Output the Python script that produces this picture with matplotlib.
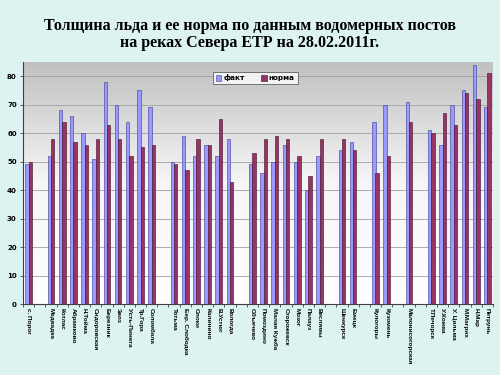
import matplotlib
matplotlib.use("Agg")
import matplotlib.pyplot as plt
import numpy as np
from matplotlib.colors import LinearSegmentedColormap

stations = ["с. Порог", "", "Медвадка", "Котлас", "Абрамково", "Н.Тойма", "Сидоровская",
            "Березник", "Звоз", "Усть-Пинега", "Тр.Гора", "Соломбала", "",
            "Тотьма", "Бер. Слободка", "Опоки", "Калинино", "В.Устюг", "Вологда", "",
            "Объячево", "Помоздино", "Малая Кужба", "Сторожевск", "Мозог", "Палауз", "Веслямы", "",
            "Шенкурск", "Емецк", "", "Кулогоры", "Кузомень", "", "Малонисогорская", "",
            "Т.Печорск", "У.Кожва", "У. Цильма", "М.Магрих", "Н.Мар", "Петрунь"]

fact = [49, None, 52, 68, 66, 60, 51, 78, 70, 64, 75, 69, None,
        50, 59, 52, 56, 52, 58, None,
        49, 46, 50, 56, 50, 40, 52, None,
        54, 57, None, 64, 70, None, 71, None,
        61, 56, 70, 75, 84, 69]

norma = [50, None, 58, 64, 57, 56, 58, 63, 58, 52, 55, 56, None,
         49, 47, 58, 56, 65, 43, None,
         53, 58, 59, 58, 52, 45, 58, None,
         58, 54, None, 46, 52, None, 64, None,
         60, 67, 63, 74, 72, 81]

title = "Толщина льда и ее норма по данным водомерных постов\nна реках Севера ЕТР на 28.02.2011г."

bg = "#DDF3F1"
fig = plt.figure(figsize=(5, 3.75), dpi=100, facecolor=bg)
ax = fig.add_axes([0.046, 0.189, 0.940, 0.646])

x = np.arange(len(stations))
fv = np.array([np.nan if v is None else v for v in fact], dtype=float)
nv = np.array([np.nan if v is None else v for v in norma], dtype=float)
w = 0.3

grad = np.linspace(0, 1, 256).reshape(-1, 1)
cmap = LinearSegmentedColormap.from_list("g", ["#FFFFFF", "#F6F6F6", "#C0C0C0"])
ax.imshow(grad, cmap=cmap, aspect="auto", extent=[-0.5, len(stations) - 0.5, 0, 85],
          origin="lower", zorder=0)

for yv in range(10, 90, 10):
    ax.axhline(yv, color="#A0A0A0", lw=0.6, zorder=1)

ax.bar(x - w / 2, fv, w, color="#9999FF", edgecolor="#3A3A8A", lw=0.4, zorder=3, label="факт")
ax.bar(x + w / 2, nv, w, color="#993366", edgecolor="#3A1028", lw=0.4, zorder=3, label="норма")

ax.set_xlim(-0.5, len(stations) - 0.5)
ax.set_ylim(0, 85)
ax.set_yticks(range(0, 90, 10))
ax.set_yticklabels([str(v) for v in range(0, 90, 10)], fontsize=5, fontweight="bold")
ax.set_xticks(x)
ax.set_xticklabels(stations, rotation=270, fontsize=4.6, fontweight="bold", va="top", ha="center",
                   family="Liberation Sans")
ax.tick_params(axis="x", length=0, pad=3)
ax.set_xticks(np.arange(-0.5, len(stations), 1), minor=True)
ax.tick_params(axis="x", which="minor", length=2.5, width=0.6, color="#404040")
ax.tick_params(axis="y", length=2.5, width=0.6, color="#404040", pad=2)
for s in ["top", "right"]:
    ax.spines[s].set_visible(False)
for s in ["left", "bottom"]:
    ax.spines[s].set_color("#404040")
    ax.spines[s].set_linewidth(0.8)

leg = ax.legend(loc="upper center", bbox_to_anchor=(0.494, 0.975), ncol=2,
                frameon=True, fancybox=False, edgecolor="#404040", facecolor="white",
                handlelength=0.8, handleheight=0.8, columnspacing=2.2, borderpad=0.4,
                handletextpad=0.3, prop={"weight": "bold", "size": 5.2})
leg.get_frame().set_linewidth(0.6)

fig.text(0.5, 0.908, title, ha="center", va="center", fontsize=11.5, fontweight="bold",
         family="Liberation Serif", linespacing=1.15)

fig.savefig("out.png", dpi=100, facecolor=bg)
